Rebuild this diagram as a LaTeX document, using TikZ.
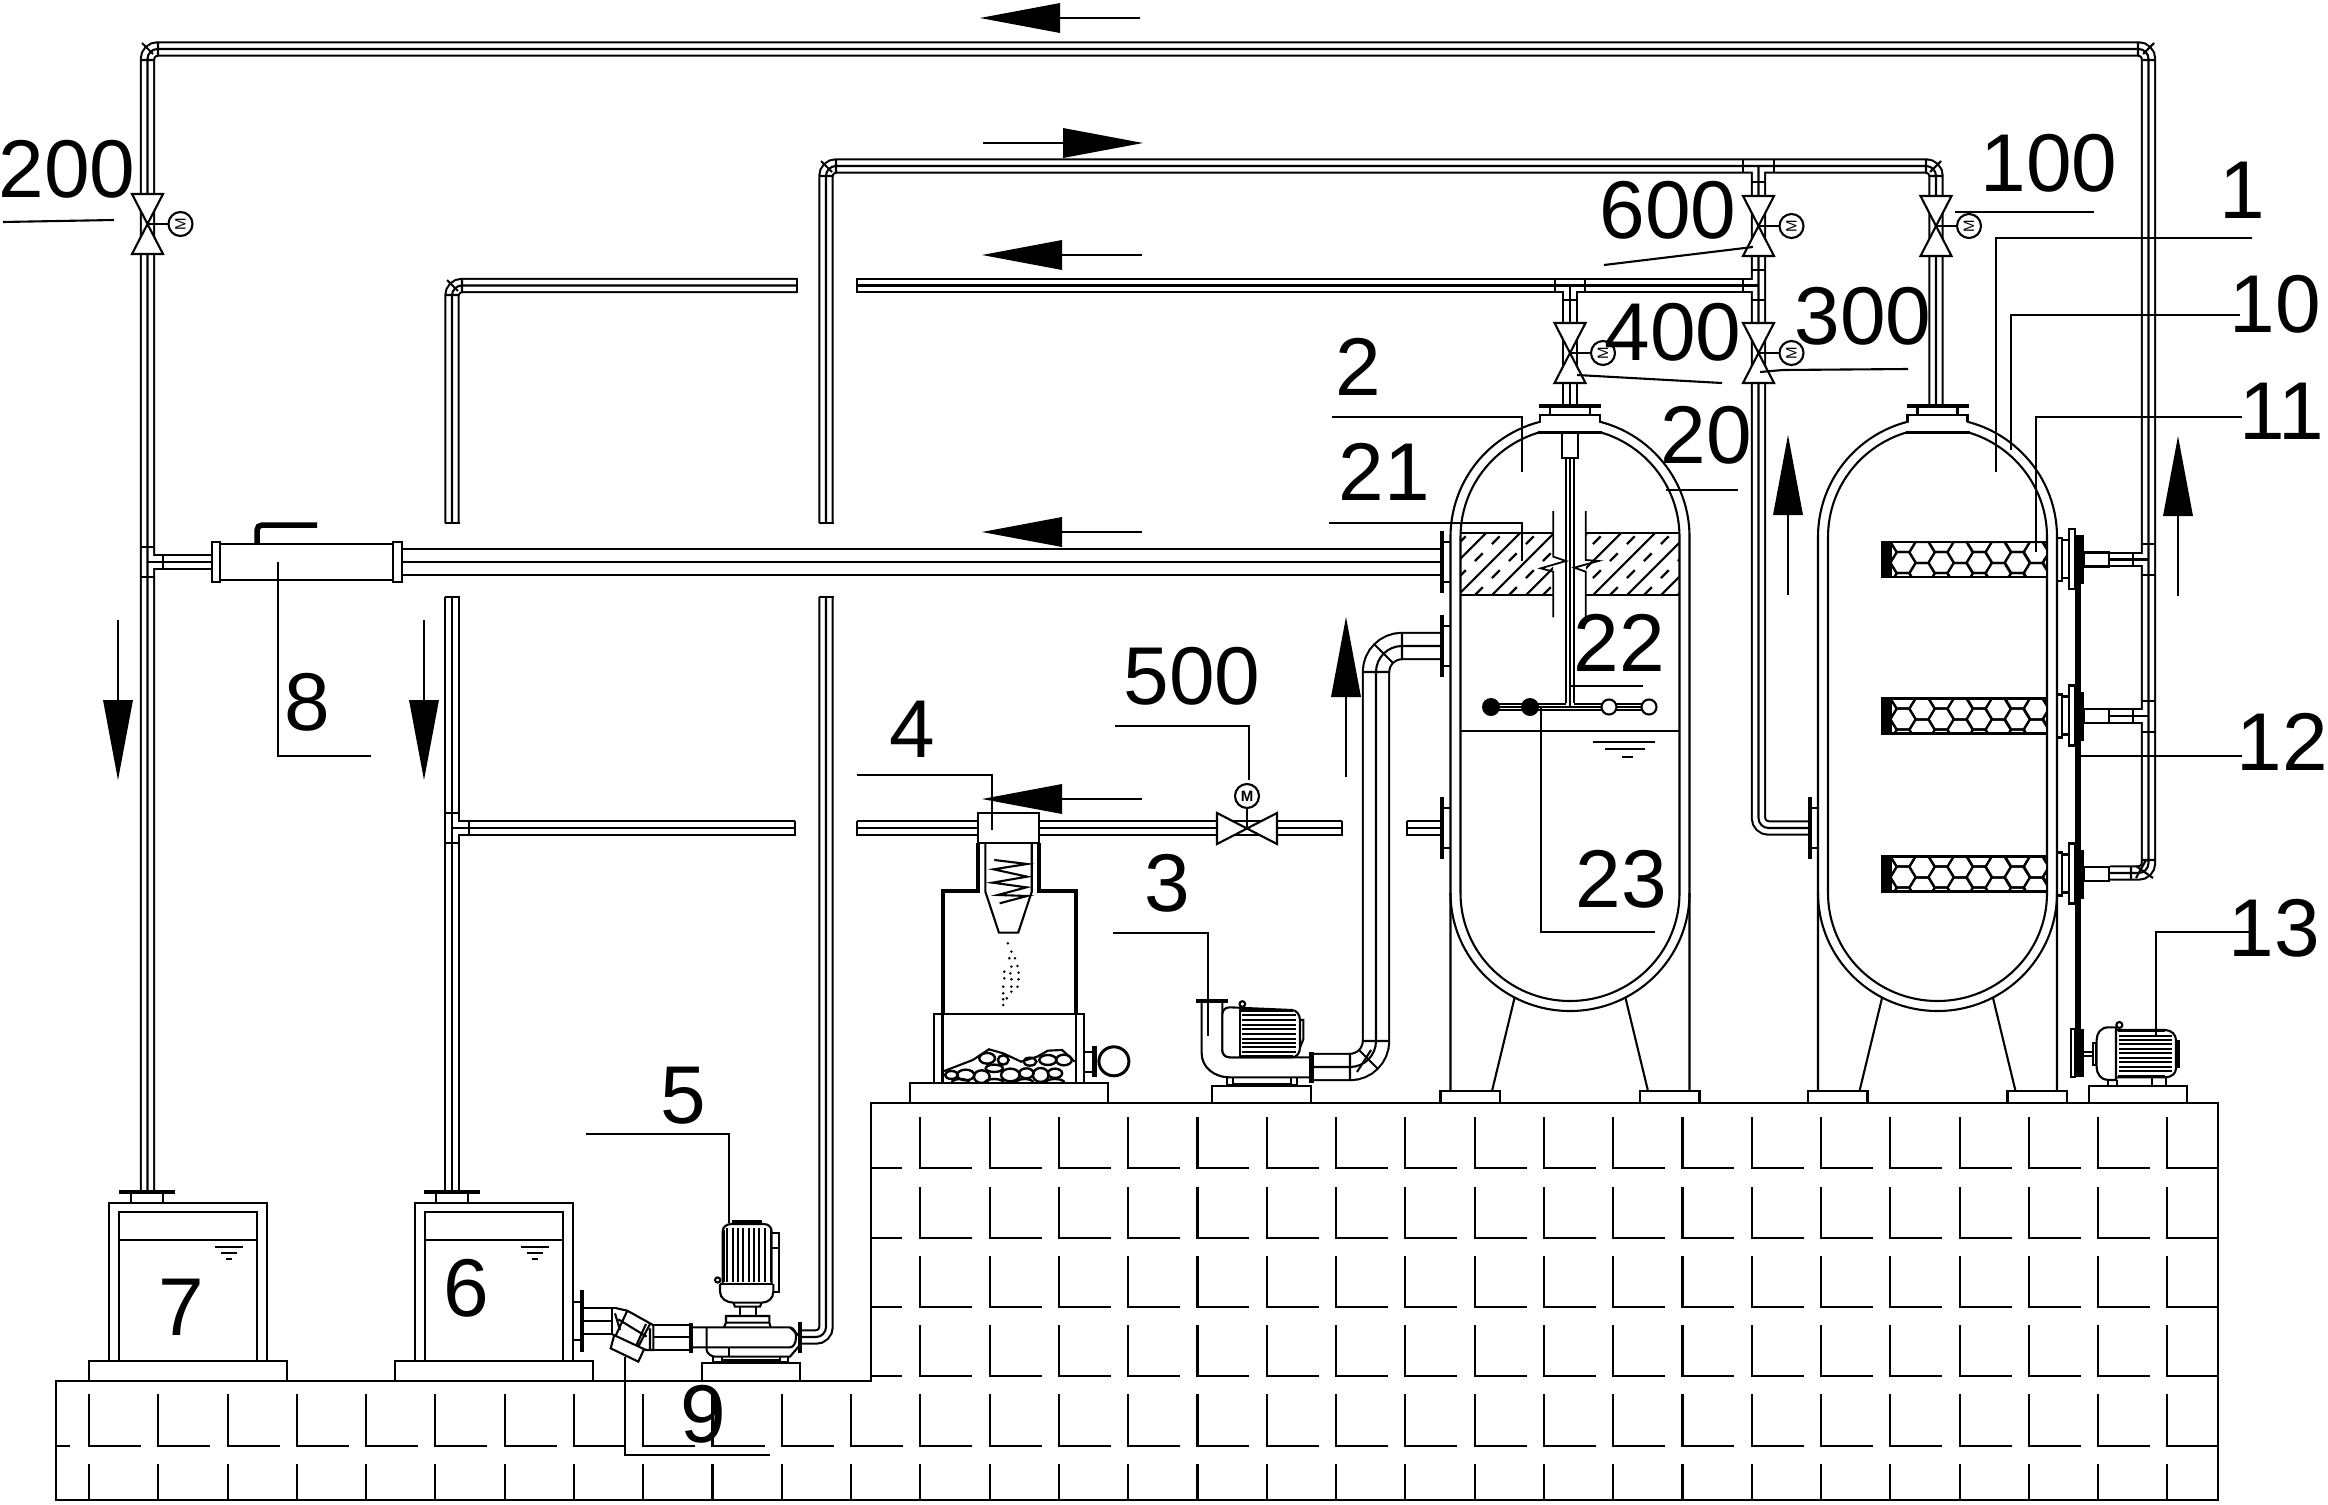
\documentclass[tikz,border=0pt]{standalone}
\usepackage{fontspec}
\setmainfont{Liberation Sans}
\newcommand\allthin{%
 \draw[pp,rounded corners=10pt] (147.5,1192)--(147.5,49)--(2148.5,49)--(2148.5,873)--(2110,873);
 \draw[pp] (147.5,562)--(212,562);
 \draw[pp] (2110,559.5)--(2148.5,559.5);
 \draw[pp] (2110,716)--(2148.5,716);
 \draw[pp,rounded corners=10pt] (826,523)--(826,166)--(1936,166)--(1936,405);
 \draw[pp,rounded corners=10pt] (826,597)--(826,1337)--(800,1337);
 \draw[pp,rounded corners=10pt] (1758.5,166)--(1758.5,828)--(1810,828);
 \draw[pp] (857,285.5)--(1758.5,285.5);
 \draw[pp,rounded corners=10pt] (797,285.5)--(452,285.5)--(452,523);
 \draw[pp] (452,597)--(452,1192);
 \draw[pp] (452,828)--(795,828);
 \draw[pp] (857,828)--(1342,828);
 \draw[pp] (1407,828)--(1442,828);
 \draw[pp] (1570,285.5)--(1570,406);
}
\newcommand\allthick{%
 \draw[pp] (402,562)--(1442,562);
 \draw[pp,rounded corners=26pt] (1311,1067)--(1376,1067)--(1376,646)--(1442,646);
}
\newcommand\vvalve[3]{%
 \begin{scope}[shift={(#2,#3)}]
  \draw[fill=white] (-15.5,-30)--(15.5,-30)--(-15.5,30)--(15.5,30)--cycle;
  \draw (0,0)--(21,0);
  \draw[fill=white] (33,0) circle[radius=12pt];
  \node[rotate=90,inner sep=0pt,font=\fontsize{15}{15}\selectfont] (#1) at (33,0) {M};
 \end{scope}}
\newcommand\hexfilter[1]{%
 \begin{scope}[shift={(0,#1)}]
  \draw[fill=white] (1882,-17.5) rectangle (2047,17.5);
  \begin{scope}
   \clip (1892,-17.5) rectangle (2047,17.5);
   \foreach \cx in {1903,1941.2,1979.4,2017.6,2055.8}
    \foreach \cy in {-18,3,24}
     \draw[shift={(\cx,\cy)}] (-12.7,0)--(-6.3,-10.5)--(6.3,-10.5)--(12.7,0)--(6.3,10.5)--(-6.3,10.5)--cycle;
   \foreach \cx in {1884,1922,1960,1998,2036}
    \foreach \cy in {-7,14}
     \draw[shift={(\cx,\cy)}] (-12.7,0)--(-6.3,-10.5)--(6.3,-10.5)--(12.7,0)--(6.3,10.5)--(-6.3,10.5)--cycle;
  \end{scope}
  \fill (1882,-17.5) rectangle (1892,17.5);
  \draw (2057,-21.5) rectangle (2062,21.5);
  \draw (2062,-19.5) rectangle (2069,18.5);
  \draw (2069,-30.5) rectangle (2075,29.5);
  \fill (2075,-24.5) rectangle (2084,24.5);
  \draw (2084,-7) rectangle (2109,7);
 \end{scope}}
\newcommand\vesselbody[1]{%
 \begin{scope}[shift={(#1,0)}]
  \draw (-119.5,1091)--(-119.5,537) .. controls (-119.5,471) and (-66,418) .. (0,418) .. controls (66,418) and (119.5,471) .. (119.5,537)--(119.5,1091);
  \draw (-119.5,893) .. controls (-119.5,958) and (-66,1011) .. (0,1011) .. controls (66,1011) and (119.5,958) .. (119.5,893);
  \draw (-109.5,893)--(-109.5,537) .. controls (-109.5,477) and (-60.5,428) .. (0,428) .. controls (60.5,428) and (109.5,477) .. (109.5,537)--(109.5,893) .. controls (109.5,953) and (60.5,1001) .. (0,1001) .. controls (-60.5,1001) and (-109.5,953) .. (-109.5,893);
  \fill[white] (-29,409) rectangle (29,431);
  \draw (-30,422)--(-30,415)--(30,415)--(30,422);
  \draw (-20,406)--(-20,415) (20,406)--(20,415);
  \draw[line width=4pt] (-31,406)--(31,406);
  \draw[line width=3pt] (-32,432)--(32,432);
  \draw (-129.5,1103)--(-129.5,1091)--(-70,1091)--(-70,1103);
  \draw (129.5,1103)--(129.5,1091)--(70,1091)--(70,1103);
  \draw (-55.5,998)--(-78,1091) (55.5,998)--(78,1091);
 \end{scope}}
\newcommand\sideflange[2]{%
 \draw (#1,#2-20)--(#1+9,#2-20) (#1,#2+20)--(#1+9,#2+20);
 \draw[line width=4.5pt] (#1,#2-31)--(#1,#2+31);}
\newcommand\tankbox[1]{%
 \begin{scope}[shift={(#1,0)}]
  \draw (0,1361)--(0,1203)--(158,1203)--(158,1361);
  \draw (10,1361)--(10,1212)--(148,1212)--(148,1361);
  \draw (10,1240)--(148,1240);
  \draw (-20,1381)--(-20,1361)--(178,1361)--(178,1381);
  \draw (106,1247)--(134,1247) (112,1253)--(128,1253);
  \draw[line width=2.4pt] (117,1259)--(123,1259);
 \end{scope}}
\newcommand\harrow[3]{%
 \draw (#1+80*#3,#2)--(#1+160*#3,#2);
 \fill (#1,#2)--(#1+80*#3,#2-15)--(#1+80*#3,#2+15)--cycle;}
\newcommand\varrow[3]{%
 \draw (#1,#2+80*#3)--(#1,#2+160*#3);
 \fill (#1,#2)--(#1-15,#2+80*#3)--(#1+15,#2+80*#3)--cycle;}
\begin{document}
\begin{tikzpicture}[x=1pt,y=-1pt,line width=2.1pt,
  lab/.style={inner sep=0pt,font=\fontsize{82}{82}\selectfont}]
\useasboundingbox (0,0) rectangle (2328,1504);
% ---------- ground and bricks
\draw (56,1381)--(871,1381)--(871,1103)--(2218,1103)--(2218,1500)--(56,1500)--cycle;
\foreach \k in {0,...,30}{
  \draw (89+69.28*\k,1394)--(89+69.28*\k,1446)--(89+69.28*\k+52,1446);
  \draw (89+69.28*\k,1464)--(89+69.28*\k,1500);}
\foreach \k in {12,...,30}{
  \foreach \r in {1117,1187,1256,1325}
   \draw (89+69.28*\k,\r)--(89+69.28*\k,\r+51)--(89+69.28*\k+52,\r+51);}
\foreach \r in {1168,1238,1307,1376} \draw (871,\r)--(902,\r);
\draw (56,1446)--(70,1446);
% ---------- pipes
\tikzset{pp/.style={line width=15.4pt,black}}\allthin
\tikzset{pp/.style={line width=11.2pt,white}}\allthin
\tikzset{pp/.style={line width=2.1pt,black}}\allthin
\tikzset{pp/.style={line width=28.4pt,black}}\allthick
\tikzset{pp/.style={line width=24.2pt,white}}\allthick
\tikzset{pp/.style={line width=2.1pt,black}}\allthick
% pipe ends
\foreach \a/\b in {826/523,826/597,452/523,452/597}
  \draw (\a-7.5,\b)--(\a+7.5,\b);
\foreach \a/\b in {857/285.5,797/285.5,795/828,857/828,1342/828,1407/828}
  \draw (\a,\b-7.5)--(\a,\b+7.5);
% pipe ticks
\draw (1743,160)--(1743,173) (1774,160)--(1774,173) (1752,182)--(1765,182);
\draw (1743,279)--(1743,292) (1752,270)--(1765,270) (1752,300)--(1765,300);
\draw (1555,279)--(1555,292) (1585,279)--(1585,292) (1564,300)--(1577,300);
\draw (141,547)--(154,547) (141,577)--(154,577) (163,556)--(163,568);
\draw (445,813)--(458,813) (445,843)--(458,843) (469,822)--(469,834);
\draw (2142,544)--(2155,544) (2142,575)--(2155,575) (2133,553)--(2133,566);
\draw (2142,701)--(2155,701) (2142,732)--(2155,732) (2133,710)--(2133,722);
\draw (2142,860)--(2155,860) (2131,866)--(2131,880) (2136,866)--(2153,878) (2146,860)--(2136,878);
% elbow ticks on the thin pipes
\draw (821,161)--(832,172) (819,176)--(833,176) (836,160)--(836,173);
\draw (447,280)--(458,291) (445,295)--(459,295) (462,279)--(462,292);
\draw (1941,161)--(1930,172) (1926,160)--(1926,173) (1930,176)--(1943,176);
% thick elbows
\draw (1350,1054)--(1350,1080) (1363,1041)--(1389,1041) (1359,1050)--(1378,1069) (1371,1050)--(1357,1072);
\draw (1363,672)--(1389,672) (1402,633)--(1402,659) (1393,663)--(1374,644);
% corner ticks on the upper loop
\draw (141,60)--(154,60) (158,42)--(158,56) (142,43)--(153,54);
\draw (2143,60)--(2155,60) (2138,42)--(2138,56) (2154,43)--(2143,54);
% ---------- vessels
\vesselbody{1570}
\vesselbody{1937.5}
\sideflange{1442}{562}
\sideflange{1442}{646}
\sideflange{1442}{828}
\sideflange{1810}{828}
% filter layer in vessel 2
\begin{scope}
 \clip (1461,533) rectangle (1553,595);
 \foreach \a in {1390,1424,...,1560} \draw (\a,595)--(\a+62,533);
 \foreach \a in {1407,1441,...,1560} \draw[line width=2.4pt,dash pattern=on 11pt off 13pt] (\a,595)--(\a+62,533);
\end{scope}
\begin{scope}
 \clip (1586,533) rectangle (1679,595);
 \foreach \a in {1525,1559,...,1680} \draw (\a,595)--(\a+62,533);
 \foreach \a in {1542,1576,...,1680} \draw[line width=2.4pt,dash pattern=on 11pt off 13pt] (\a,595)--(\a+62,533);
\end{scope}
\draw (1461,533)--(1553,533) (1586,533)--(1679,533);
\draw (1461,595)--(1553,595) (1586,595)--(1679,595);
\begin{scope}[shift={(1440,500)},x=.3333pt,y=-.3333pt]
 \draw[line width=1.8pt] (340,33)--(340,170)--(378,183)--(302,205)--(340,215)--(340,352);
 \draw[line width=1.8pt] (437,33)--(437,180)--(475,183)--(403,203)--(437,215)--(437,352);
\end{scope}
% stirrer
\draw (1562,432)--(1562,458)--(1578,458)--(1578,432);
\draw (1566,458)--(1566,703) (1570,458)--(1570,707) (1574,458)--(1574,703);
\draw[line width=1.7pt] (1491,704)--(1566,704) (1574,704)--(1649,704) (1491,707)--(1649,707) (1491,710)--(1649,710);
\fill (1491,707) circle[radius=9pt] (1530,707) circle[radius=9pt];
\draw[fill=white] (1609,707) circle[radius=7.5pt] (1649,707) circle[radius=7.5pt];
\draw (1461,731)--(1679,731);
\draw (1593,742)--(1655,742) (1605,749)--(1645,749);
\draw[line width=2.4pt] (1622,757)--(1633,757);
% filters
\hexfilter{559.5}
\hexfilter{716}
\hexfilter{874}
\fill (2075,535) rectangle (2081,1040);
% ---------- device 8
\draw[fill=white] (220,544) rectangle (393,580);
\draw[fill=white] (212,542) rectangle (220,582);
\draw[fill=white] (393,542) rectangle (402,582);
\draw[line width=5.5pt,rounded corners=5pt] (257,544)--(257,525)--(317,525);
% ---------- tanks
\tankbox{109}
\tankbox{415}
\draw (131,1192)--(131,1203) (163,1192)--(163,1203) (436,1192)--(436,1203) (468,1192)--(468,1203);
\draw[line width=4pt] (119,1192)--(175,1192) (424,1192)--(480,1192);
% ---------- valves
\vvalve{vtwo}{147.5}{224}
\vvalve{vsix}{1758.5}{226}
\vvalve{vone}{1936}{226}
\vvalve{vfour}{1570}{353}
\vvalve{vthree}{1758.5}{353}
\draw[fill=white] (1217,813)--(1217,844)--(1277,813)--(1277,844)--cycle;
\draw (1247,828)--(1247,808);
\draw[fill=white] (1247,796) circle[radius=12pt];
\node[inner sep=0pt,font=\fontsize{15}{15}\selectfont\bfseries] (vfive) at (1247,796) {M};
% ---------- cyclone 4 (zoom coordinates)
\begin{scope}[shift={(880,760)},x=.3571pt,y=-.3333pt]
 \draw[fill=white] (275,158) rectangle (445,250);
 \draw[line width=4pt] (275,250)--(275,392)--(175,392)--(175,763) (445,250)--(445,392)--(550,392)--(550,763);
 \draw (295,250)--(295,395)--(333,518)--(387,518)--(425,395)--(425,250);
 \draw (320,300)--(412,312)--(318,328)--(412,350)--(315,368)--(410,382)--(330,405)--(412,408)--(335,430);
 \foreach \a/\b in {358/550,368/575,362/595,378/595,368/620,385/618,348/635,365/640,388/638,348/655,368/658,388/658,345/680,368/680,385/680,345/700,368/695,345/718,355/715,345/735}
  \fill (\a,\b) circle[radius=1.4pt];
 \draw (150,970)--(150,763)--(572,763)--(572,970);
 \draw (175,763)--(175,970) (550,763)--(550,970);
 \draw (83,1028)--(83,970)--(638,970)--(638,1028);
 % rocks
 \draw (175,935)--(260,900)--(305,868)--(345,880)--(395,905)--(440,890)--(470,872)--(510,870)--(545,905);
 \begin{scope}
  \clip (175,860) rectangle (548,970);
  \foreach \a/\b/\c/\d in {345/900/15/14,300/895/22/16,240/945/24/16,285/950/22/19,320/925/24/11,365/945/26/19,410/940/20/15,450/945/22/21,490/940/20/14,515/900/22/16,470/900/24/15,420/905/18/12,225/968/24/11,320/968/26/11,405/968/24/11,490/968/26/11,200/945/18/12}
   \draw[line width=2.4pt] (\a,\b) ellipse[x radius=\c*.3571pt,y radius=\d*.3333pt];
 \end{scope}
 \draw (572,875)--(600,875) (572,935)--(600,935);
 \draw[line width=5pt] (600,858)--(600,950);
 \draw[line width=3pt] (655,904) ellipse[x radius=15pt,y radius=14.5pt];
\end{scope}
% ---------- pump 3 (zoom coordinates)
\begin{scope}[shift={(1180,960)},x=.3333pt,y=-.3333pt]
 \draw[line width=4pt] (48,123)--(143,123);
 \draw (65,123)--(65,280) .. controls (65,320) and (100,352) .. (150,352)--(390,352);
 \draw (127,123)--(127,270) .. controls (127,283) and (135,292) .. (150,292)--(390,292);
 \draw[fill=white] (127,270)--(127,165) .. controls (127,150) and (135,142) .. (150,142)--(335,150) .. controls (350,150) and (360,165) .. (360,180)--(360,262) .. controls (360,280) and (350,292) .. (335,292)--(150,292) .. controls (135,292) and (127,283) .. (127,270);
 \draw (180,142)--(180,292);
 \foreach \r in {165,180,195,208,222,236,250,262,275} \draw (187,\r)--(348,\r);
 \draw[line width=3pt] (180,150)--(340,150) (180,290)--(340,290);
 \draw (360,180)--(370,180)--(370,238)--(360,262);
 \draw (187,132) circle[radius=2.8pt];
 \draw (140,352)--(140,376)--(160,376)--(160,352) (332,352)--(332,376)--(352,376)--(352,352);
 \draw[line width=3pt] (160,372)--(332,372);
 \draw[line width=5pt] (393,277)--(393,368);
 \draw (97,428)--(97,377)--(393,377)--(393,428);
\end{scope}
% ---------- pump 5 (zoom coordinates)
\begin{scope}[shift={(540,1180)},x=.3333pt,y=-.3333pt]
 \draw (100,365)--(126,365) (100,480)--(126,480);
 \draw[line width=4pt] (126,330)--(126,515);
 \draw (130,385)--(230,385) (130,423)--(220,423) (130,462)--(215,462);
 \draw (215,385)--(215,462);
 \draw (230,385)--(262,392)--(330,430)--(340,435)--(340,510)--(318,510)--(215,462);
 \draw (262,392)--(228,465) (330,432)--(295,500) (318,432)--(288,498) (235,418)--(320,470) (225,400)--(240,450) (330,445)--(330,510);
 \draw (222,468)--(212,505)--(295,545)--(312,508);
 \draw (340,435)--(450,435) (340,472)--(450,472) (340,510)--(450,510);
 \draw[line width=4pt] (453,428)--(453,518);
 \draw (458,442)--(750,442) .. controls (765,445) and (768,460) .. (768,472) .. controls (768,490) and (760,502) .. (750,502)--(458,502);
 \draw (500,442)--(500,510) .. controls (500,520) and (515,530) .. (525,530)--(750,530)--(780,495);
 \draw (750,442)--(780,470);
 \draw (567,502)--(567,530);
 \draw[line width=4pt] (780,425)--(780,518);
 \draw (552,442)--(558,428)--(558,408)--(688,408)--(688,428)--(692,442) (558,428)--(688,428);
 \draw (600,380)--(600,408) (648,380)--(648,408);
 \draw (580,368)--(585,380)--(660,380)--(665,368);
 \draw (520,545)--(520,530) (545,545)--(545,530) (720,545)--(720,530) (745,545)--(745,530) (520,545)--(545,545) (720,545)--(745,545);
 \draw[line width=3pt] (545,541)--(720,541);
 \draw (485,600)--(485,550)--(780,550)--(780,600);
 % motor
 \draw (548,310)--(548,155) .. controls (548,140) and (560,132) .. (575,132)--(670,132) .. controls (685,132) and (695,140) .. (695,155)--(695,310);
 \draw (540,312)--(700,312);
 \draw (540,312)--(540,335) .. controls (540,355) and (560,368) .. (580,368)--(665,368) .. controls (685,368) and (700,355) .. (700,335)--(700,312);
 \draw[line width=2.8pt] (575,125)--(665,125);
 \draw (695,160)--(718,160)--(718,335)--(700,335);
 \draw (695,205)--(718,205);
 \foreach \a in {562,578,594,610,626,642,658,674} \draw[line width=1.7pt] (\a,145)--(\a,305);
 \draw[line width=2.6pt] (550,150)--(550,305) (693,150)--(693,305);
 \draw[fill=white] (533,300) circle[radius=2.6pt];
\end{scope}
% ---------- motor 13 (zoom coordinates)
\begin{scope}[shift={(1980,940)},x=.3333pt,y=-.3333pt]
 \fill (285,268) rectangle (312,412);
 \draw (272,268) rectangle (285,412);
 \draw (312,335)--(338,335) (312,347)--(338,347);
 \draw (338,308)--(348,308)--(348,375)--(338,375)--cycle;
 \draw (408,262)--(385,262) .. controls (362,262) and (350,280) .. (350,300)--(350,380) .. controls (350,405) and (365,420) .. (385,420)--(408,420)--cycle;
 \draw (408,270)--(555,270) .. controls (575,270) and (588,285) .. (588,300)--(588,385) .. controls (588,400) and (575,412) .. (555,412)--(408,412);
 \draw[line width=3pt] (415,272)--(555,272) (415,410)--(555,410);
 \foreach \r in {287,300,313,327,340,353,367,380,393} \draw (418,\r)--(575,\r);
 \draw[line width=3.5pt] (595,300)--(595,385);
 \draw (418,255) circle[radius=3pt];
 \draw (383,420)--(383,436) (410,420)--(410,436) (515,412)--(515,436) (558,412)--(558,436);
 \draw (327,488)--(327,437)--(622,437)--(622,488);
\end{scope}
% ---------- arrows
\harrow{980}{18}{1}
\harrow{1143}{143}{-1}
\harrow{982}{255}{1}
\harrow{982}{532}{1}
\harrow{982}{799}{1}
\varrow{118}{780}{-1}
\varrow{424}{780}{-1}
\varrow{1346}{617}{1}
\varrow{1788}{435}{1}
\varrow{2178}{436}{1}
% ---------- leader lines
\draw (3,222)--(114,220);
\draw (1604,265)--(1753,247);
\draw (1955,212)--(2094,212);
\draw (2252,238)--(1996,238)--(1996,472);
\draw (2240,315)--(2011,315)--(2011,450);
\draw (2242,417)--(2036,417)--(2036,552);
\draw (2081,756)--(2242,756);
\draw (1760,372)--(1783,370)--(1908,369);
\draw (1577,375)--(1722,383);
\draw (1332,417)--(1522,417)--(1522,472);
\draw (1329,523)--(1522,523)--(1522,561);
\draw (1666,490)--(1738,490);
\draw (1571,686)--(1643,686);
\draw (1541,707)--(1541,932)--(1655,932);
\draw (1115,726)--(1249,726)--(1249,780);
\draw (857,775)--(992,775)--(992,830);
\draw (1113,933)--(1208,933)--(1208,1036);
\draw (586,1134)--(729,1134)--(729,1223);
\draw (278,562)--(278,756)--(371,756);
\draw (625,1357)--(625,1455)--(770,1455);
\draw (2254,932)--(2156,932)--(2156,1036);
% ---------- labels
\node[lab] (l200) at (67,169) {200};
\node[lab] (l600) at (1668,210) {600};
\node[lab] (l100) at (2049,163) {100};
\node[lab] (l1) at (2242,190) {1};
\node[lab] (l10) at (2275,304) {10};
\node[lab] (l11) at (2282,411) {11};
\node[lab] (l12) at (2282,742) {12};
\node[lab] (l13) at (2274,928) {13};
\node[lab] (l300) at (1863,316) {300};
\node[lab] (l400) at (1673,332) {400};
\node[lab] (l2) at (1358,367) {2};
\node[lab] (l21) at (1384,472) {21};
\node[lab] (l20) at (1706,435) {20};
\node[lab] (l22) at (1619,643) {22};
\node[lab] (l23) at (1621,879) {23};
\node[lab] (l500) at (1192,676) {500};
\node[lab] (l4) at (912,729) {4};
\node[lab] (l3) at (1167,883) {3};
\node[lab] (l5) at (683,1096) {5};
\node[lab] (l8) at (307,702) {8};
\node[lab] (l9) at (703,1414) {9};
\node[lab] (l7) at (181,1307) {7};
\node[lab] (l6) at (466,1288) {6};
\end{tikzpicture}
\end{document}
